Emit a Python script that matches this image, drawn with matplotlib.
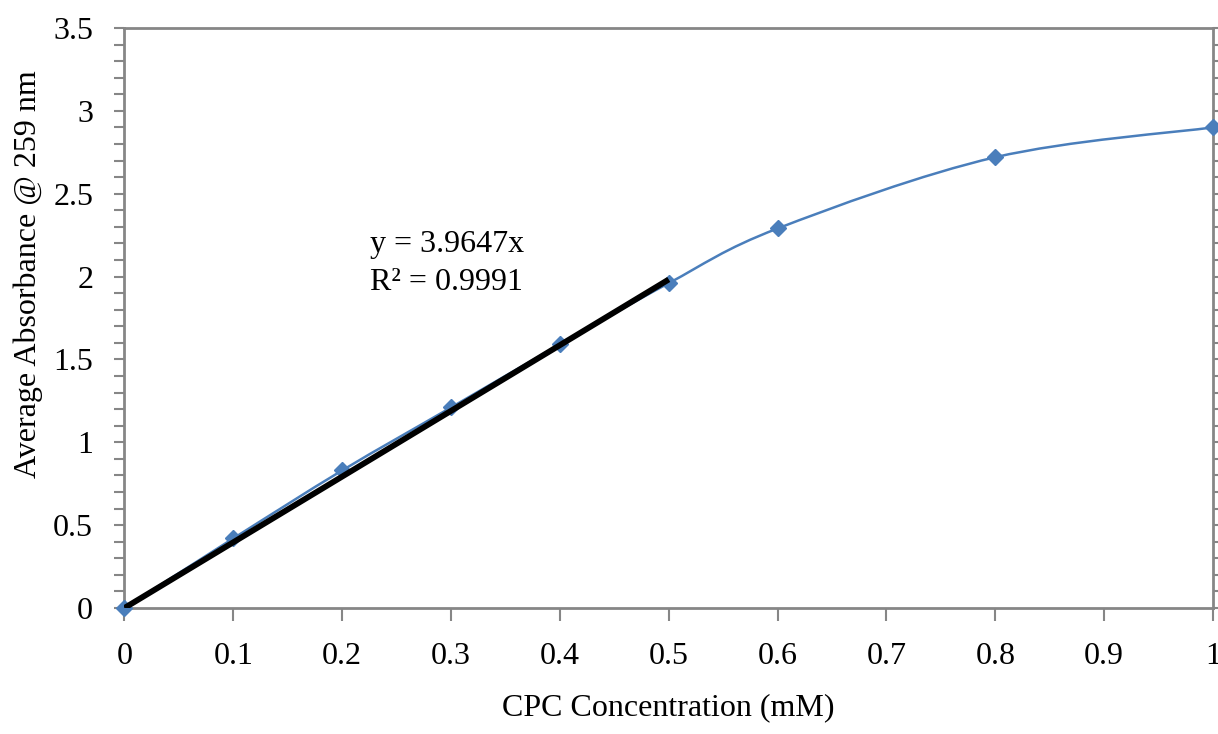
import numpy as np
import matplotlib
matplotlib.use("Agg")
import matplotlib.pyplot as plt
from matplotlib.path import Path
from matplotlib.patches import PathPatch
from matplotlib.ticker import MultipleLocator, FuncFormatter

conc = [0, 0.1, 0.2, 0.3, 0.4, 0.5, 0.6, 0.8, 1.0]
absorb = [0, 0.42, 0.83, 1.21, 1.59, 1.96, 2.29, 2.72, 2.90]
slope = 3.9647
fit_range = [0, 0.5]
eq_text = "y = 3.9647x\nR\u00b2 = 0.9991"

blue = "#4a7ebb"
grey = "#868686"

plt.rcParams['font.family'] = ['Liberation Serif', 'DejaVu Serif']

def smooth_path(xs, ys):
    # excel-like smoothed line: catmull-rom as cubic bezier
    p = np.column_stack([xs, ys]).astype(float)
    ext = np.vstack([p[0], p, p[-1]])
    verts = [p[0]]
    codes = [Path.MOVETO]
    for i in range(len(p) - 1):
        a, b, c, d = ext[i], ext[i + 1], ext[i + 2], ext[i + 3]
        verts += [b + (c - a) / 6, c - (d - b) / 6, c]
        codes += [Path.CURVE4] * 3
    return Path(verts, codes)

def fmt(v, pos):
    return "%g" % round(v, 2)

fig = plt.figure(figsize=(12.18, 7.34), dpi=100)
ax = fig.add_axes([0.1022, 0.1717, 0.8937, 0.7902])

ax.add_patch(PathPatch(smooth_path(conc, absorb), fill=False,
                       edgecolor=blue, lw=1.8, zorder=2))
ax.plot(conc, absorb, ls='none', marker='D', ms=8.5, color=blue,
        clip_on=False, zorder=3)

fx = np.array(fit_range)
ax.plot(fx, slope * fx, color='black', lw=4.2, solid_capstyle='butt',
        zorder=4)

ax.text(0.226, 2.08, eq_text, fontsize=23, va='center', ha='left',
        linespacing=1.4)

ax.set_xlim(0, 1)
ax.set_ylim(0, 3.5)
ax.xaxis.set_major_locator(MultipleLocator(0.1))
ax.yaxis.set_major_locator(MultipleLocator(0.5))
ax.yaxis.set_minor_locator(MultipleLocator(0.1))
ax.xaxis.set_major_formatter(FuncFormatter(fmt))
ax.yaxis.set_major_formatter(FuncFormatter(fmt))

for s in ax.spines.values():
    s.set_color(grey)
    s.set_linewidth(2)

ax.tick_params(axis='both', which='both', direction='out', color=grey,
               width=1.5, labelsize=23)
ax.tick_params(axis='x', length=9, pad=15.5)
ax.tick_params(axis='y', which='both', length=7, right=True, pad=15.5)

ax.set_xlabel("CPC Concentration (mM)", fontsize=23, labelpad=16)
ax.set_ylabel("Average Absorbance @ 259 nm", fontsize=23)
ax.yaxis.set_label_coords(-0.075, 0.576)

fig.savefig("out.png", dpi=100)
